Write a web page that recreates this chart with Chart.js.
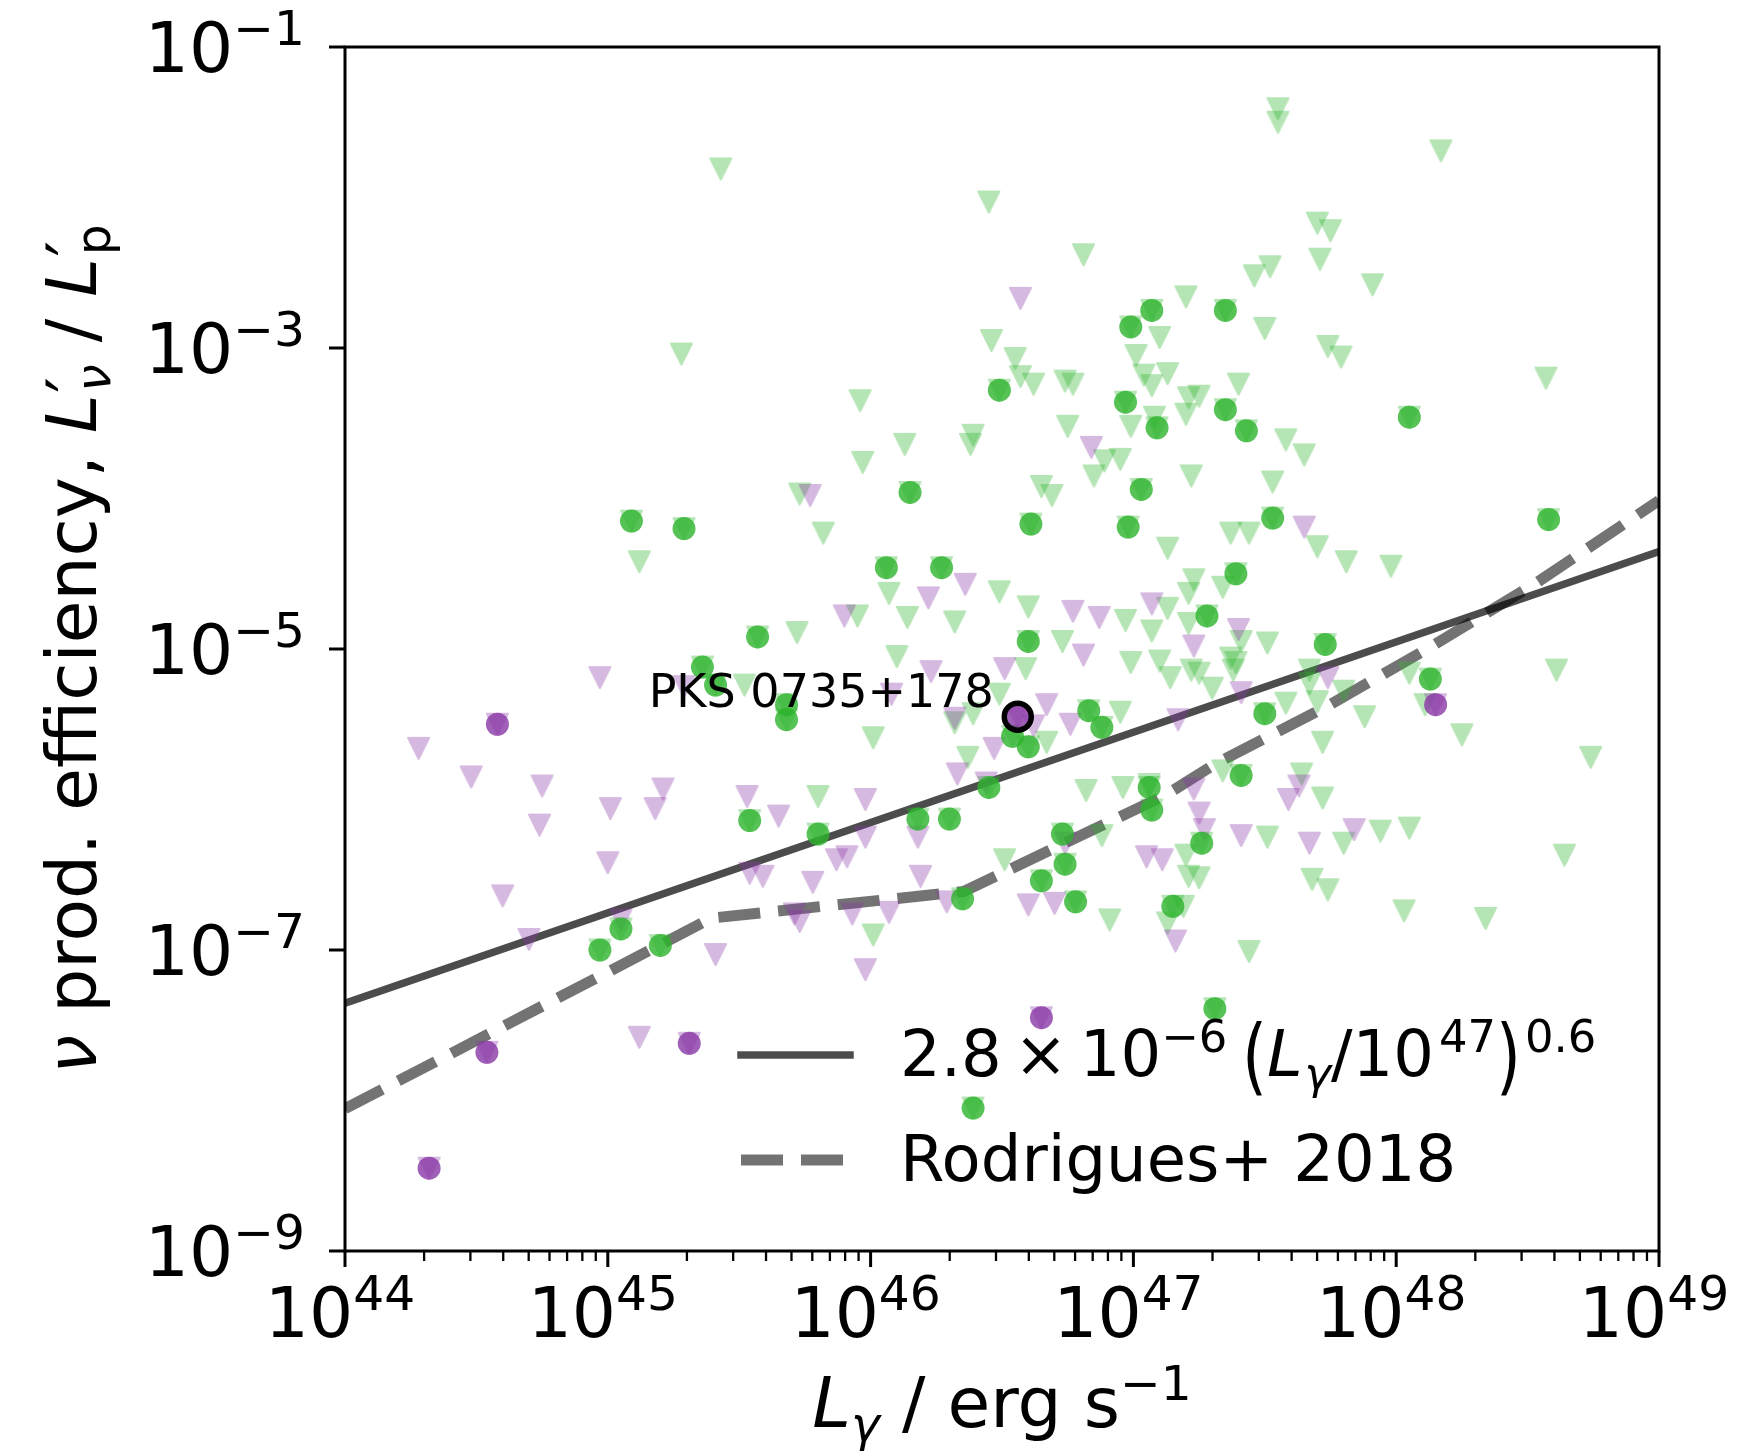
<!DOCTYPE html>
<html>
<head>
<meta charset="utf-8">
<script src="https://cdn.jsdelivr.net/npm/chart.js@4.4.1/dist/chart.umd.min.js"></script>
<style>
  html, body { margin: 0; padding: 0; background: #ffffff; }
  #wrap { width: 1747px; height: 1454px; }
  canvas { display: block; }
</style>
</head>
<body>
<div id="wrap"><canvas id="chart" width="1747" height="1454"></canvas></div>
<script>
// Axis limits and labelled decades
const xLimits = [1e44, 1e49];
const yLimits = [1e-9, 1e-1];
const xTickExps = [44, 45, 46, 47, 48, 49];
const yTickExps = [-1, -3, -5, -7, -9];

// Sources as [log10 L_gamma (erg/s), log10 efficiency L'_nu / L'_p]
const popA_detections = [
  [45.09,-4.15],[45.29,-4.20],[45.36,-5.12],[45.57,-4.92],[45.68,-5.37],[45.68,-5.47],
  [45.54,-6.14],[45.80,-6.23],[46.06,-4.46],[46.15,-3.96],[46.27,-4.46],[46.18,-6.13],
  [46.30,-6.13],[46.35,-6.66],[46.45,-5.92],[46.49,-3.28],[46.61,-4.17],[46.60,-4.95],
  [46.54,-5.58],[46.60,-5.65],[46.65,-6.54],[46.73,-6.23],[46.74,-6.43],[46.78,-6.68],
  [46.83,-5.41],[46.88,-5.52],[46.97,-3.36],[46.98,-4.19],[46.99,-2.86],[47.03,-3.94],
  [47.07,-2.75],[47.09,-3.53],[47.06,-5.92],[47.07,-6.07],[47.15,-6.71],[47.26,-6.29],
  [47.28,-4.78],[47.31,-7.39],[47.35,-2.75],[47.35,-3.41],[47.39,-4.50],[47.43,-3.55],
  [47.53,-4.13],[47.50,-5.43],[47.41,-5.84],[47.73,-4.97],[48.05,-3.46],[48.13,-5.20],
  [48.58,-4.14],[44.97,-7.00],[45.05,-6.86],[45.20,-6.97],[46.39,-8.05],[45.41,-5.24]
];
const popA_upperLimits = [
  [45.43,-1.81],[45.28,-3.04],[45.12,-4.42],[46.45,-2.03],[46.81,-2.38],[47.20,-2.66],
  [46.46,-2.95],[46.55,-3.07],[46.57,-3.19],[46.62,-3.24],[46.74,-3.22],[46.77,-3.24],
  [47.10,-2.93],[47.01,-3.05],[47.04,-3.18],[47.13,-3.17],[47.07,-3.25],[47.21,-3.33],
  [47.25,-3.32],[47.20,-3.44],[47.08,-3.46],[46.99,-3.52],[47.40,-3.24],[45.96,-3.35],
  [46.75,-3.52],[46.13,-3.64],[46.39,-3.58],[46.38,-3.64],[45.97,-3.76],[46.89,-3.75],
  [46.95,-3.74],[46.85,-3.85],[46.65,-3.92],[46.69,-3.98],[47.22,-3.85],[47.37,-4.23],
  [47.13,-4.33],[45.73,-3.97],[45.82,-4.23],[47.23,-4.54],[47.21,-4.63],[47.34,-4.59],
  [46.07,-4.63],[46.49,-4.62],[46.60,-4.72],[45.95,-4.78],[46.14,-4.79],[46.32,-4.82],
  [46.97,-4.81],[47.07,-4.88],[47.13,-4.73],[47.21,-4.83],[46.73,-4.95],[45.72,-4.89],
  [47.41,-4.95],[47.55,-1.41],[47.55,-1.50],[48.17,-1.69],[47.70,-2.17],[47.75,-2.22],
  [47.71,-2.41],[47.52,-2.46],[47.46,-2.52],[47.91,-2.58],[47.50,-2.87],[47.74,-2.99],
  [47.79,-3.06],[48.57,-3.20],[47.58,-3.61],[47.65,-3.71],[47.53,-3.89],[47.44,-4.23],
  [47.70,-4.32],[47.81,-4.42],[47.98,-4.45],[47.51,-4.96],[45.52,-5.24],[46.10,-5.05],
  [46.59,-5.13],[46.49,-5.30],[46.32,-5.49],[46.39,-5.43],[46.01,-5.59],[46.37,-5.72],
  [46.67,-5.62],[46.95,-5.42],[46.99,-5.09],[47.10,-5.08],[47.14,-5.19],[47.22,-5.14],
  [47.25,-5.16],[47.30,-5.26],[47.37,-5.06],[47.38,-5.14],[45.80,-5.98],[46.82,-5.94],
  [46.96,-5.92],[47.06,-5.90],[46.51,-6.40],[46.88,-6.24],[47.20,-6.37],[47.21,-6.51],
  [47.25,-6.52],[46.91,-6.80],[47.13,-6.82],[47.19,-6.71],[46.01,-6.90],[47.34,-5.81],
  [47.39,-5.09],[48.61,-5.14],[47.67,-5.14],[47.67,-5.23],[47.80,-5.28],[47.58,-5.36],
  [47.70,-5.35],[47.88,-5.45],[48.05,-5.16],[48.11,-5.37],[48.25,-5.57],[47.72,-5.62],
  [48.74,-5.72],[47.64,-5.83],[47.72,-5.99],[47.51,-6.25],[47.80,-6.29],[47.94,-6.21],
  [48.05,-6.19],[48.64,-6.37],[47.68,-6.53],[47.74,-6.60],[48.03,-6.74],[48.34,-6.79],
  [47.44,-7.01]
];
const popB_detections = [
  [44.58,-5.50],[44.54,-7.68],[44.32,-8.45],[45.31,-7.62],[46.65,-7.45],[46.56,-5.45],[48.15,-5.37]
];
const popB_upperLimits = [
  [46.57,-2.67],[46.84,-3.66],[45.77,-3.98],[46.36,-4.57],[46.22,-4.66],[45.90,-4.78],
  [46.77,-4.75],[46.87,-4.79],[47.07,-4.70],[47.23,-4.98],[47.40,-4.87],[47.65,-4.19],
  [44.97,-5.19],[45.29,-5.25],[44.28,-5.66],[44.48,-5.85],[44.75,-5.91],[44.74,-6.17],
  [45.01,-6.06],[45.18,-6.06],[45.21,-5.93],[45.00,-6.42],[44.60,-6.64],[44.70,-6.93],
  [45.53,-5.98],[45.65,-6.11],[45.54,-6.49],[45.59,-6.51],[45.05,-6.80],[45.41,-7.03],
  [45.12,-7.58],[45.71,-6.76],[46.23,-5.15],[46.51,-5.13],[46.81,-5.04],[46.08,-5.30],
  [46.67,-5.37],[46.62,-5.51],[46.76,-5.50],[46.32,-5.46],[46.47,-5.66],[46.33,-5.83],
  [46.44,-5.89],[47.17,-5.47],[47.23,-5.93],[47.25,-6.09],[47.27,-6.20],[47.41,-6.24],
  [45.98,-6.00],[45.98,-6.25],[45.87,-6.40],[45.91,-6.38],[45.78,-6.55],[45.73,-6.81],
  [45.93,-6.76],[46.07,-6.75],[46.18,-6.25],[46.19,-6.51],[46.29,-6.68],[45.98,-7.13],
  [46.60,-6.70],[46.70,-6.69],[46.74,-6.29],[47.05,-6.38],[47.11,-6.40],[47.16,-6.94],
  [47.41,-5.29],[47.74,-5.19],[47.59,-6.00],[47.63,-5.91],[47.67,-6.29],[47.84,-6.20]
];

// Labelled source
const highlightName = 'PKS 0735+178';
const highlightPoint = [46.56, -5.45];

// Power law: eff = norm * (L / pivot)^index
const lawNorm = 2.8e-6;
const lawIndex = 0.6;
const lawPivot = 1e47;

// Rodrigues et al. 2018 model curve, [log10 L, log10 eff]
const rodrigues2018 = [
  [44.00,-8.054],[45.395,-6.788],[46.354,-6.611],[46.922,-6.137],[47.126,-5.967],
  [47.316,-5.759],[47.736,-5.382],[48.135,-4.982],[48.534,-4.560],[49.00,-4.013]
];

// ---- styling ----
const FONT = '"DejaVu Sans", "DejaVu Sans Book", sans-serif';
const GREEN = '45,180,45';
const PURPLE = '138,56,166';
const MARK = 23;
const toXY = p => ({ x: 10 ** p[0], y: 10 ** p[1] });

function triangleMarker(rgb, alpha, size) {
  const dim = Math.ceil(size) + 6;
  const solid = document.createElement('canvas');
  solid.width = solid.height = dim;
  const g = solid.getContext('2d');
  const c = dim / 2, h = (size - 2) / 2;
  g.beginPath();
  g.moveTo(c - h, c - h); g.lineTo(c + h, c - h); g.lineTo(c, c + h); g.closePath();
  g.fillStyle = g.strokeStyle = 'rgb(' + rgb + ')';
  g.lineWidth = 2; g.lineJoin = 'round';
  g.fill(); g.stroke();
  const out = document.createElement('canvas');
  out.width = out.height = dim;
  const o = out.getContext('2d');
  o.globalAlpha = alpha;
  o.drawImage(solid, 0, 0);
  return out;
}
const triA = triangleMarker(GREEN, 0.35, MARK);
const triB = triangleMarker(PURPLE, 0.35, MARK);

const lawLine = xLimits.map(L => ({ x: L, y: lawNorm * (L / lawPivot) ** lawIndex }));

// ---- mathtext-like text runs ----
function fontStr(px, italic) { return (italic ? 'italic ' : '') + px.toFixed(2) + 'px ' + FONT; }
function layoutRuns(ctx, runs, F) {
  let x = 0; const items = [];
  for (const r of runs) {
    const s = (r.s || 1) * F;
    ctx.font = fontStr(s, r.it);
    x += (r.pre || 0) * F;
    const w = ctx.measureText(r.t).width;
    items.push({ r, x, s });
    if (!r.noAdv) x += w;
    x += (r.post || 0) * F;
  }
  return { items, width: x };
}
function drawRuns(ctx, lay, x0, y0, F) {
  for (const it of lay.items) {
    ctx.font = fontStr(it.s, it.r.it);
    if (it.r.paren) {
      ctx.save();
      ctx.translate(x0 + it.x, y0 - 0.27 * F);
      ctx.scale(1, it.r.paren);
      ctx.fillText(it.r.t, 0, 0.3135 * F);
      ctx.restore();
    } else {
      ctx.fillText(it.r.t, x0 + it.x, y0 - (it.r.dy || 0) * F);
    }
  }
}
const tickRuns = e => [{ t: '10' }, { t: (e < 0 ? '\u2212' : '') + Math.abs(e), s: 0.7, dy: 0.385 }];
const xTitleRuns = [
  { t: 'L', it: true }, { t: '\u03b3', it: true, s: 0.7, dy: -0.2 },
  { t: ' / erg s' }, { t: '\u22121', s: 0.7, dy: 0.385 }
];
const yTitleRuns = [
  { t: '\u03bd', it: true }, { t: ' prod. efficiency, ' },
  { t: 'L', it: true }, { t: '\u2032', noAdv: true, pre: 0.02 },
  { t: '\u03bd', it: true, s: 0.7, dy: -0.2, pre: 0.02 },
  { t: ' / ' },
  { t: 'L', it: true }, { t: '\u2032', noAdv: true, pre: 0.02 },
  { t: 'p', s: 0.7, dy: -0.2, pre: 0.02 }
];
const lawLegendRuns = [
  { t: '2.8' }, { t: '\u00d7', pre: 0.19, post: 0.19 }, { t: '10' },
  { t: '\u22126', s: 0.7, dy: 0.37 },
  { t: '(', pre: 0.23, paren: 1.3 },
  { t: 'L', it: true }, { t: '\u03b3', it: true, s: 0.7, dy: -0.2, pre: 0.03 },
  { t: '/' }, { t: '10' }, { t: '47', s: 0.7, dy: 0.37, pre: 0.08 },
  { t: ')', paren: 1.3 }, { t: '0.6', s: 0.7, dy: 0.37, pre: 0.06 }
];
const rodLegendRuns = [{ t: 'Rodrigues+ 2018' }];

const decorPlugin = {
  id: 'decor',
  afterDraw(chart) {
    const { ctx, chartArea: a } = chart;
    const xs = chart.scales.x, ys = chart.scales.y;
    const TF = 69.5, LF = 64, AF = 46;
    ctx.save();
    ctx.fillStyle = '#000'; ctx.strokeStyle = '#000';
    ctx.textBaseline = 'alphabetic'; ctx.textAlign = 'left';
    const seg = (x1, y1, x2, y2) => { ctx.beginPath(); ctx.moveTo(x1, y1); ctx.lineTo(x2, y2); ctx.stroke(); };

    // minor ticks on the luminosity axis
    ctx.lineCap = 'butt';
    ctx.lineWidth = 2.3;
    for (let e = xTickExps[0]; e < xTickExps[xTickExps.length - 1]; e++) {
      for (let k = 2; k <= 9; k++) {
        const px = xs.getPixelForValue(k * 10 ** e);
        seg(px, a.bottom, px, a.bottom + 10);
      }
    }
    ctx.lineWidth = 3;
    xTickExps.forEach(e => { const px = xs.getPixelForValue(10 ** e); seg(px, a.bottom, px, a.bottom + 16); });
    yTickExps.forEach(e => { const py = ys.getPixelForValue(10 ** e); seg(a.left, py, a.left - 16, py); });

    // frame
    ctx.lineWidth = 3;
    ctx.strokeRect(a.left, a.top, a.right - a.left, a.bottom - a.top);

    // tick labels
    xTickExps.forEach(e => {
      const lay = layoutRuns(ctx, tickRuns(e), TF);
      const px = xs.getPixelForValue(10 ** e);
      drawRuns(ctx, lay, px - lay.width / 2 - 5, a.bottom + 86, TF);
    });
    yTickExps.forEach(e => {
      const lay = layoutRuns(ctx, tickRuns(e), TF);
      const py = ys.getPixelForValue(10 ** e);
      drawRuns(ctx, lay, a.left - 40 - lay.width, py + 25, TF);
    });

    // axis titles
    const xl = layoutRuns(ctx, xTitleRuns, TF);
    drawRuns(ctx, xl, (a.left + a.right) / 2 - xl.width / 2, a.bottom + 176, TF);
    const yl = layoutRuns(ctx, yTitleRuns, TF);
    ctx.save();
    ctx.translate(96, (a.top + a.bottom) / 2);
    ctx.rotate(-Math.PI / 2);
    drawRuns(ctx, yl, -yl.width / 2, 0, TF);
    ctx.restore();

    // legend
    const hx0 = a.left + 396, hx1 = a.left + 505;
    ctx.strokeStyle = 'rgba(0,0,0,0.7)';
    ctx.lineWidth = 7.5; ctx.lineCap = 'square';
    seg(hx0, a.top + 1008, hx1, a.top + 1008);
    ctx.strokeStyle = 'rgba(0,0,0,0.55)';
    ctx.lineWidth = 11; ctx.lineCap = 'butt';
    ctx.setLineDash([42, 18]);
    seg(hx0, a.top + 1113, hx1, a.top + 1113);
    ctx.setLineDash([]);
    ctx.fillStyle = '#000';
    drawRuns(ctx, layoutRuns(ctx, lawLegendRuns, LF), a.left + 555, a.top + 1029, LF);
    drawRuns(ctx, layoutRuns(ctx, rodLegendRuns, LF), a.left + 555, a.top + 1134, LF);

    // source label
    const hp = toXY(highlightPoint);
    const hpx = xs.getPixelForValue(hp.x), hpy = ys.getPixelForValue(hp.y);
    ctx.font = fontStr(AF, false);
    ctx.textAlign = 'right';
    ctx.fillText(highlightName, hpx - 24, hpy - 10);
    ctx.restore();
  }
};

new Chart(document.getElementById('chart').getContext('2d'), {
  type: 'scatter',
  data: {
    datasets: [
      { label: 'highlight', data: [toXY(highlightPoint)], pointStyle: 'circle', pointRadius: 13.5,
        backgroundColor: 'rgba(0,0,0,0)', borderColor: '#000', borderWidth: 5.5, order: 0 },
      { label: 'B detections', data: popB_detections.map(toXY), pointStyle: 'circle', pointRadius: MARK / 2,
        backgroundColor: 'rgba(' + PURPLE + ',0.8)', borderWidth: 0, order: 1 },
      { label: 'A detections', data: popA_detections.map(toXY), pointStyle: 'circle', pointRadius: MARK / 2,
        backgroundColor: 'rgba(' + GREEN + ',0.8)', borderWidth: 0, order: 2 },
      { label: 'B limits', data: popB_upperLimits.concat(popB_detections).map(toXY), pointStyle: triB,
        pointRadius: MARK / 2, order: 3 },
      { label: 'A limits', data: popA_upperLimits.concat(popA_detections).map(toXY), pointStyle: triA,
        pointRadius: MARK / 2, order: 4 },
      { label: 'Rodrigues+ 2018', data: rodrigues2018.map(toXY), showLine: true, pointRadius: 0,
        borderColor: 'rgba(0,0,0,0.55)', borderWidth: 11, borderDash: [42, 18], borderCapStyle: 'butt',
        borderJoinStyle: 'round', tension: 0, fill: false, order: 5 },
      { label: 'power law', data: lawLine, showLine: true, pointRadius: 0,
        borderColor: 'rgba(0,0,0,0.7)', borderWidth: 7.5, tension: 0, fill: false, order: 6 }
    ]
  },
  options: {
    responsive: false,
    animation: false,
    devicePixelRatio: 1,
    events: [],
    layout: { padding: { left: 345, top: 47, right: 88, bottom: 203 } },
    scales: {
      x: { type: 'logarithmic', min: xLimits[0], max: xLimits[1], display: false },
      y: { type: 'logarithmic', min: yLimits[0], max: yLimits[1], display: false }
    },
    plugins: { legend: { display: false }, tooltip: { enabled: false } }
  },
  plugins: [decorPlugin]
});
</script>
</body>
</html>
